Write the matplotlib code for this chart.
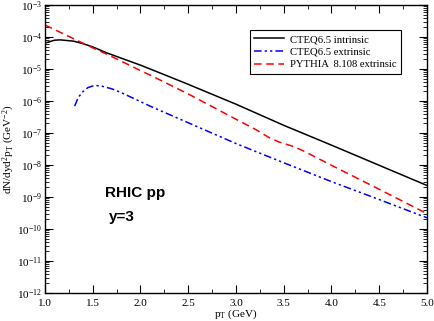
import numpy as np
import matplotlib
matplotlib.use("Agg")
import matplotlib.pyplot as plt
from matplotlib.ticker import LogLocator, MultipleLocator, NullFormatter

plt.rcParams['font.family'] = ['Liberation Serif', 'DejaVu Serif']
plt.rcParams['mathtext.fontset'] = 'custom'
plt.rcParams['mathtext.rm'] = 'Liberation Serif'
plt.rcParams['mathtext.it'] = 'Liberation Serif:italic'

# CTEQ6.5 intrinsic (log10 of dN/dyd2pT)
pt_int = [1.0, 1.1, 1.16, 1.3, 1.4, 1.5, 1.65, 2.0, 2.31, 2.5, 3.0, 3.5, 4.0, 4.5, 5.0]
log_int = [-4.19, -4.10, -4.09, -4.13, -4.21, -4.31, -4.50, -4.88, -5.25, -5.48,
           -6.10, -6.76, -7.38, -8.01, -8.64]

# CTEQ6.5 extrinsic
pt_ext = [1.31, 1.35, 1.4, 1.45, 1.5, 1.55, 1.6, 1.7, 1.8, 2.0, 2.1, 2.5, 3.0, 3.5,
          4.0, 4.5, 5.0]
log_ext = [-6.16, -5.88, -5.70, -5.58, -5.53, -5.52, -5.54, -5.62, -5.74, -6.02,
           -6.16, -6.68, -7.33, -7.93, -8.52, -9.08, -9.65]

# PYTHIA 8.108 extrinsic
pt_py = [1.0, 1.5, 1.65, 2.0, 2.1, 2.5, 3.0, 3.2, 3.35, 3.45, 3.6, 3.7, 4.0, 4.5, 5.0]
log_py = [-3.625, -4.34, -4.54, -5.05, -5.19, -5.78, -6.57, -6.88, -7.15, -7.28,
          -7.42, -7.55, -8.01, -8.76, -9.52]

fig = plt.figure(figsize=(4.35, 3.21), dpi=100)
ax = fig.add_axes([45 / 435, 28 / 321, 382 / 435, 288 / 321])

ax.plot(pt_int, 10 ** np.array(log_int), color='black', lw=1.1,
        label='CTEQ6.5 intrinsic')
ax.plot(pt_ext, 10 ** np.array(log_ext), color='blue', lw=1.1,
        dashes=(5, 2, 1.5, 2, 1.5, 2), label='CTEQ6.5 extrinsic')
ax.plot(pt_py, 10 ** np.array(log_py), color='red', lw=1.1,
        dashes=(5, 3), label='PYTHIA  8.108 extrinsic')

ax.set_yscale('log')
ax.set_xlim(1.0, 5.0)
ax.set_ylim(1e-12, 1e-3)
ax.xaxis.set_major_locator(MultipleLocator(0.5))
ax.xaxis.set_minor_locator(MultipleLocator(0.25))
ax.yaxis.set_major_locator(LogLocator(base=10, numticks=20))
ax.yaxis.set_minor_locator(LogLocator(base=10, subs=np.arange(2, 10), numticks=20))
ax.yaxis.set_minor_formatter(NullFormatter())
ax.xaxis.set_major_formatter(plt.FuncFormatter(lambda v, p: f'{v:.1f}'))
ax.tick_params(which='both', direction='in', top=True, right=True, labelsize=8)
ax.tick_params(axis='x', which='major', pad=4)
ax.tick_params(axis='y', which='major', pad=2)
ax.tick_params(which='major', length=6, width=0.8)
ax.tick_params(which='minor', length=3, width=0.6)
for s in ax.spines.values():
    s.set_linewidth(1.0)

ax.set_xlabel(r'p$_\mathrm{T}$ (GeV)', fontsize=8, labelpad=0)
ax.set_ylabel(r'dN/dyd$^2$p$_\mathrm{T}$ (GeV$^{-2}$)', fontsize=8, labelpad=0)

leg = ax.legend(loc='upper right', bbox_to_anchor=(0.996 - 19 / 382, 1 - 20 / 288),
                fontsize=7.7, fancybox=False, edgecolor='black', framealpha=1,
                handlelength=2.8, borderpad=0.4, labelspacing=0.3,
                handletextpad=0.6)
leg.get_frame().set_linewidth(0.8)

fig.text(105 / 435, 1 - 193 / 321, 'RHIC pp', fontsize=11, fontweight='bold',
         family='Liberation Sans', va='center')
fig.text(109 / 435, 1 - 217 / 321, 'y=3', fontsize=11, fontweight='bold',
         family='Liberation Sans', va='center')

fig.savefig('out.png', dpi=100)
